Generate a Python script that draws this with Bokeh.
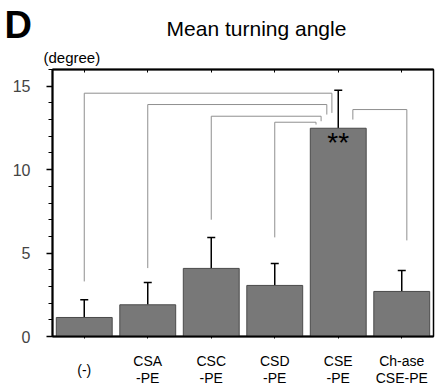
import numpy as np
from bokeh.plotting import figure
from bokeh.models import (Range1d, LinearAxis, FixedTicker, Whisker, TeeHead,
                          ColumnDataSource)
from bokeh.embed import file_html
from bokeh.resources import INLINE
from bokeh.core.properties import value

# ---- data ----
categories = ["(-)", "CSA\n-PE", "CSC\n-PE", "CSD\n-PE", "CSE\n-PE", "Ch-ase\nCSE-PE"]
means = [1.14, 1.9, 4.08, 3.06, 12.48, 2.7]
errors = [1.06, 1.34, 1.86, 1.32, 2.28, 1.26]
y_ticks = [0, 5, 10, 15]

# significance brackets: left x, right x, top y, left leg end, right leg end
br_left_x = [0, 1, 2, 3, 4.23]
br_right_x = [3.90, 3.82, 3.73, 3.65, 5.08]
br_top = [14.58, 13.9, 13.2, 12.84, 13.6]
br_left_end = [3.3, 4.1, 7.0, 5.94, 13.0]
br_right_end = [13.4, 13.3, 12.9, 12.7, 5.76]
sig_text = "**"
sig_x = 4
sig_y = 11.6

FONT = "Liberation Sans"
W = 435
TOP_H = 67          # header strip (panel letter, title, unit)
MAIN_H = 281        # plot area + borders
BOT_H = 42          # category labels strip
FL, FR = 52, 2

x = list(range(len(categories)))
upper = [m + e for m, e in zip(means, errors)]

# ---------- header ----------
top = figure(width=W, height=TOP_H, output_backend="svg", toolbar_location=None,
             x_range=Range1d(0, W), y_range=Range1d(TOP_H, 0),
             x_axis_type=None, y_axis_type=None,
             min_border_left=0, min_border_right=0, min_border_top=0, min_border_bottom=0)
top.grid.visible = False
top.outline_line_color = None
top.text(x=[4], y=[24], text=["D"], text_font=value(FONT), text_font_style="bold",
         text_font_size="38px", text_baseline="alphabetic", text_color="black")
top.text(x=[43], y=[57], text=["(degree)"], text_font=value(FONT),
         text_font_size="15px", text_baseline="alphabetic", text_color="black")
top.text(x=[256], y=[28], text=["Mean turning angle"], text_font=value(FONT),
         text_font_size="21px", text_baseline="alphabetic", text_align="center",
         text_color="black")

# ---------- main plot ----------
p = figure(width=W, height=MAIN_H, output_backend="svg", toolbar_location=None,
           x_range=Range1d(-0.5, 5.5), y_range=Range1d(0, 16),
           x_axis_type=None, y_axis_type=None,
           min_border_left=FL, min_border_right=FR, min_border_top=2,
           min_border_bottom=12)
p.grid.visible = False
p.outline_line_color = "black"
p.outline_line_width = 1.5

p.vbar(x=x, top=means, bottom=0, width=0.88, fill_color="#787878",
       line_color="#4a4a4a", line_width=1)

src = ColumnDataSource(dict(x=x, lower=means, upper=upper))
p.add_layout(Whisker(source=src, base="x", lower="lower", upper="upper",
                     line_color="black", line_width=1.5,
                     upper_head=TeeHead(size=8, line_color="black", line_width=1.5),
                     lower_head=None))

xs, ys = [], []
for lx, rx, t, le, re in zip(br_left_x, br_right_x, br_top, br_left_end, br_right_end):
    xs.append([lx, lx, rx, rx])
    ys.append([le, t, t, re])
p.multi_line(xs=xs, ys=ys, line_color="#8f8f8f", line_width=1)

p.text(x=[sig_x], y=[sig_y], text=[sig_text], text_align="center",
       text_baseline="middle", text_font=value(FONT), text_font_size="28px",
       text_color="black")

yax = LinearAxis(ticker=FixedTicker(ticks=y_ticks, minor_ticks=list(range(0, 17))))
yax.major_tick_in = 0
yax.major_tick_out = 6
yax.minor_tick_in = 0
yax.minor_tick_out = 4
yax.axis_line_width = 2
yax.major_tick_line_width = 1.5
yax.major_label_text_font = FONT
yax.major_label_text_font_size = "16px"
yax.major_label_standoff = 16
p.add_layout(yax, "left")

xax = LinearAxis(ticker=FixedTicker(ticks=x))
xax.major_label_text_alpha = 0
xax.major_label_text_font_size = "1px"
xax.major_label_standoff = 0
xax.major_tick_in = 0
xax.major_tick_out = 2
xax.minor_tick_out = 0
xax.axis_line_width = 2
p.add_layout(xax, "below")

tax = LinearAxis(ticker=FixedTicker(ticks=x))
tax.major_label_text_alpha = 0
tax.major_label_text_font_size = "1px"
tax.major_label_standoff = 0
tax.major_tick_in = 3
tax.major_tick_out = 0
tax.minor_tick_out = 0
tax.minor_tick_in = 0
tax.axis_line_width = 2
p.add_layout(tax, "above")

# ---------- category labels ----------
bot = figure(width=W, height=BOT_H, output_backend="svg", toolbar_location=None,
             x_range=p.x_range, y_range=Range1d(BOT_H, 0),
             x_axis_type=None, y_axis_type=None,
             min_border_left=FL, min_border_right=FR, min_border_top=0, min_border_bottom=0)
bot.grid.visible = False
bot.outline_line_color = None
bot.text(x=x, y=[21] * len(x), text=categories, text_align="center",
         text_baseline="middle", text_font=value(FONT), text_font_size="14px",
         text_line_height=1.1, text_color="black")

# separate roots (stacked on the page) so that each strip keeps its own frame
open("out.html", "w").write(file_html([top, p, bot], INLINE))
